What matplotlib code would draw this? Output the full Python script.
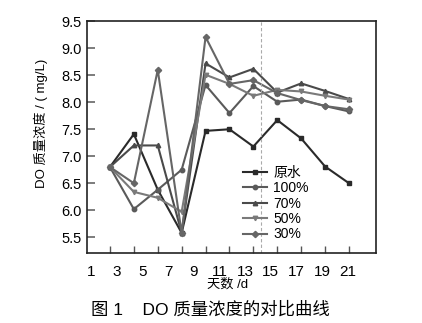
import numpy as np
import matplotlib
matplotlib.use('Agg')
import matplotlib.pyplot as plt

plt.rcParams['font.family'] = ['Liberation Sans', 'Noto Sans CJK SC']

# 数据
days = [1, 3, 5, 7, 9, 11, 13, 15, 17, 19, 21]
raw_water = [6.80, 7.41, 6.38, 5.58, 7.47, 7.50, 7.18, 7.67, 7.33, 6.81, 6.50]
pct100 = [6.80, 6.02, 6.38, 6.75, 8.32, 7.80, 8.30, 8.01, 8.05, 7.93, 7.83]
pct70 = [6.80, 7.20, 7.20, 5.58, 8.72, 8.46, 8.62, 8.18, 8.35, 8.21, 8.06]
pct50 = [6.80, 6.34, 6.23, 5.97, 8.51, 8.34, 8.12, 8.23, 8.20, 8.12, 8.05]
pct30 = [6.80, 6.50, 8.60, 5.58, 9.21, 8.34, 8.41, 8.17, 8.04, 7.93, 7.87]
labels = ['原水', '100%', '70%', '50%', '30%']
tick_days = [1, 3, 5, 7, 9, 11, 13, 15, 17, 19, 21]
y_ticks = [5.5, 6.0, 6.5, 7.0, 7.5, 8.0, 8.5, 9.0, 9.5]

series = [raw_water, pct100, pct70, pct50, pct30]
colors = ['#2a2a2a', '#5a5a5a', '#4a4a4a', '#7a7a7a', '#666666']
markers = ['s', 'o', '^', 'v', 'D']

fig = plt.figure(figsize=(4.22, 3.23), dpi=100)
ax = fig.add_axes([0.206, 0.218, 0.685, 0.716])

for vals, c, m, lab in zip(series, colors, markers, labels):
    ax.plot(days, vals, color=c, marker=m, markersize=3.2, lw=1.5, label=lab)

ax.axvline(13.68, color='#aaaaaa', lw=0.8, ls=(0, (3, 2)))

ax.set_xlim(-0.925, 23.26)
ax.set_ylim(5.215, 9.5)

# 刻度线在数据点处，刻度标签位置略有偏移（与原图一致）
ax.set_xticks(days)
ax.set_xticklabels([])
ax.set_xticks([-0.59 + 1.0753 * (d - 1) for d in tick_days], minor=True)
ax.set_xticklabels([str(d) for d in tick_days], minor=True)
ax.tick_params(axis='x', which='major', direction='in', length=5, width=1, color='#555555')
ax.tick_params(axis='x', which='minor', length=0, pad=9, labelsize=11)

ax.set_yticks(y_ticks)
ax.set_yticklabels([f'{v:.1f}' for v in y_ticks])
ax.tick_params(axis='y', direction='in', length=6, width=1.2, color='#666666', labelsize=10.5, pad=4)

for s in ax.spines.values():
    s.set_linewidth(1.2)
    s.set_color('#222222')

ax.set_ylabel('DO 质量浓度 / ( mg/L)', fontsize=9.5)
ax.yaxis.set_label_coords(-0.135, 0.557)

ax.legend(loc='upper left', bbox_to_anchor=(0.515, 0.405), frameon=False, fontsize=10,
          handlelength=1.75, handletextpad=0.45, labelspacing=0.1, borderpad=0)

fig.text(0.54, 0.118, '天数 /d', ha='center', va='center', fontsize=9.5)
fig.text(0.498, 0.043, '图 1    DO 质量浓度的对比曲线', ha='center', va='center', fontsize=12.5)

fig.savefig('out.png', dpi=100)
